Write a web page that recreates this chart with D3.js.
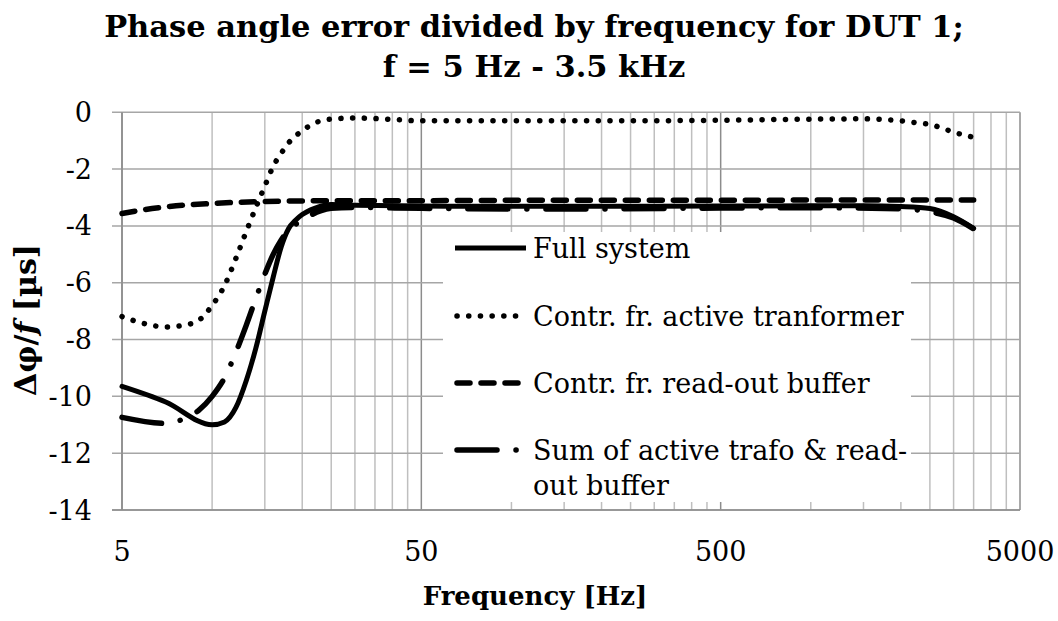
<!DOCTYPE html>
<html><head><meta charset="utf-8">
<script src="https://cdn.jsdelivr.net/npm/d3@7"></script>
<style>body{margin:0;background:#fff} svg{display:block}</style>
</head><body><svg id="c" width="1058" height="621"></svg>
<script>
// ---------- data ----------
const titleLines = ["Phase angle error divided by frequency for DUT 1;", "f = 5 Hz - 3.5 kHz"];
const xTickValues = [5, 50, 500, 5000];
const yTickValues = [0, -2, -4, -6, -8, -10, -12, -14];
const xTitle = "Frequency [Hz]";
const seriesNames = ["Full system", "Contr. fr. active tranformer", "Contr. fr. read-out buffer", "Sum of active trafo & read-out buffer"];

const fullF = [5, 7, 10, 11, 12, 13, 14, 15, 16, 17, 18, 19, 20, 22, 25, 30, 50, 100, 200, 500, 1000, 1500, 2000, 2500, 3000, 3500];
const fullV = [-9.65, -10.2, -11.0, -10.9, -10.4, -9.45, -8.3, -7.0, -5.8, -4.75, -4.1, -3.8, -3.6, -3.38, -3.25, -3.27, -3.3, -3.31, -3.31, -3.3, -3.29, -3.29, -3.32, -3.39, -3.68, -4.09];

const trafoF = [5, 6, 7, 8, 9, 10, 11, 12, 13, 14, 15, 16, 17, 18, 20, 22, 25, 30, 40, 50, 100, 200, 500, 1000, 1500, 2000, 2300, 2500, 2750, 3000, 3250, 3500];
const trafoV = [-7.19, -7.45, -7.56, -7.5, -7.33, -6.8, -6.1, -5.15, -4.2, -3.35, -2.6, -1.9, -1.45, -1.08, -0.65, -0.38, -0.24, -0.2, -0.25, -0.3, -0.3, -0.3, -0.28, -0.24, -0.23, -0.3, -0.38, -0.43, -0.56, -0.7, -0.8, -0.88];

const bufferF = [5, 6, 7, 8, 10, 12, 14, 17, 20, 30, 50, 100, 500, 1000, 3500];
const bufferV = [-3.56, -3.42, -3.33, -3.27, -3.21, -3.17, -3.15, -3.13, -3.12, -3.11, -3.11, -3.1, -3.1, -3.09, -3.09];

const sumF = [5, 7, 8, 9, 10, 11, 12, 13, 14, 15, 16, 17, 18, 20, 23, 25, 30, 50, 100, 200, 500, 1000, 2000, 2500, 3000, 3500];
const sumV = [-10.74, -10.95, -10.8, -10.5, -10.0, -9.35, -8.45, -7.5, -6.55, -5.7, -5.0, -4.5, -4.15, -3.8, -3.47, -3.38, -3.35, -3.38, -3.4, -3.4, -3.37, -3.36, -3.4, -3.5, -3.72, -4.1];

// ---------- chart ----------
const svg = d3.select("#c");
const FONT = "'DejaVu Serif', serif";
const x = d3.scaleLog().domain([5, 5000]).range([122, 1020]);
const y = d3.scaleLinear().domain([-14, 0]).range([510, 112.3]);

// minor vertical gridlines (5,10,...,45,50,100,...)
const minor = [];
[5, 50, 500].forEach(d => { for (let k = 1; k <= 9; k++) minor.push(d * k); });
minor.push(5000);

const grid = svg.append("g");
grid.selectAll("line.vmin").data(minor).join("line")
  .attr("x1", d => x(d)).attr("x2", d => x(d))
  .attr("y1", y(0)).attr("y2", y(-14))
  .attr("stroke", d => xTickValues.includes(d) ? "#8c8c8c" : "#bfbfbf")
  .attr("stroke-width", 1.5);
grid.selectAll("line.h").data(yTickValues).join("line")
  .attr("x1", 112).attr("x2", x(5000))
  .attr("y1", d => y(d)).attr("y2", d => y(d))
  .attr("stroke", "#a6a6a6").attr("stroke-width", 1.5);
// axis lines
svg.append("line").attr("x1", x(5)).attr("x2", x(5)).attr("y1", y(0)).attr("y2", y(-14))
  .attr("stroke", "#8c8c8c").attr("stroke-width", 1.5);
svg.append("line").attr("x1", 112).attr("x2", x(5000)).attr("y1", y(-14)).attr("y2", y(-14))
  .attr("stroke", "#8c8c8c").attr("stroke-width", 1.5);

// tick labels
svg.append("g").selectAll("text").data(yTickValues).join("text")
  .attr("x", 92).attr("y", d => y(d) + 9.5)
  .attr("text-anchor", "end").attr("font-family", FONT).attr("font-size", 27)
  .text(d => d);
svg.append("g").selectAll("text").data(xTickValues).join("text")
  .attr("x", d => x(d)).attr("y", 561)
  .attr("text-anchor", "middle").attr("font-family", FONT).attr("font-size", 27)
  .text(d => d);

// titles
svg.append("g").selectAll("text").data(titleLines).join("text")
  .attr("x", 534).attr("y", (d, i) => 37 + i * 40)
  .attr("text-anchor", "middle").attr("font-family", FONT).attr("font-weight", "bold")
  .attr("font-size", 30.5).text(d => d);
svg.append("text").attr("x", 535).attr("y", 605).attr("text-anchor", "middle")
  .attr("font-family", FONT).attr("font-weight", "bold").attr("font-size", 26).text(xTitle);
const yt = svg.append("text").attr("transform", "translate(36,320) rotate(-90)")
  .attr("text-anchor", "middle").attr("font-family", FONT).attr("font-weight", "bold").attr("font-size", 30);
yt.append("tspan").text("Δφ/");
yt.append("tspan").attr("font-style", "italic").text("f");
yt.append("tspan").text(" [µs]");

// series
const styles = [
  { dash: null, w: 5, cap: "round" },
  { dash: "0.1,11.6", w: 5.5, cap: "round" },
  { dash: "13,11", w: 5.5, cap: "round" },
  { dash: "40,19,0.1,19", w: 5.5, cap: "round" }
];
const seriesData = [
  fullF.map((f, i) => [f, fullV[i]]),
  trafoF.map((f, i) => [f, trafoV[i]]),
  bufferF.map((f, i) => [f, bufferV[i]]),
  sumF.map((f, i) => [f, sumV[i]])
];
const line = d3.line().x(d => x(d[0])).y(d => y(d[1])).curve(d3.curveMonotoneX);
const plot = svg.append("g");
seriesData.forEach((s, i) => {
  plot.append("path").datum(s).attr("d", line)
    .attr("fill", "none").attr("stroke", "#000")
    .attr("stroke-width", styles[i].w)
    .attr("stroke-linecap", styles[i].cap).attr("stroke-linejoin", "round")
    .attr("stroke-dasharray", styles[i].dash);
});

// legend
const lg = svg.append("g");
lg.append("rect").attr("x", 443).attr("y", 232).attr("width", 468).attr("height", 270).attr("fill", "#fff");
const legendRows = [258, 326, 393, 460];
const legendDash = [null, "0.1,11.6", "13,11", "40,19,0.1,19"];
seriesNames.forEach((name, i) => {
  const by = legendRows[i];
  lg.append("line").attr("x1", i === 0 ? 455 : 457).attr("x2", i === 0 ? 526 : 518)
    .attr("y1", by - 10).attr("y2", by - 10)
    .attr("stroke", "#000").attr("stroke-width", styles[i].w)
    .attr("stroke-linecap", i === 0 ? "butt" : "round")
    .attr("stroke-dasharray", legendDash[i]);
  const t = lg.append("text").attr("x", 533).attr("y", by)
    .attr("font-family", FONT).attr("font-size", 27);
  if (i === 3) {
    t.append("tspan").attr("x", 533).text("Sum of active trafo & read-");
    t.append("tspan").attr("x", 533).attr("dy", 35).text("out buffer");
  } else {
    t.text(name);
  }
});
</script>
</body></html>
